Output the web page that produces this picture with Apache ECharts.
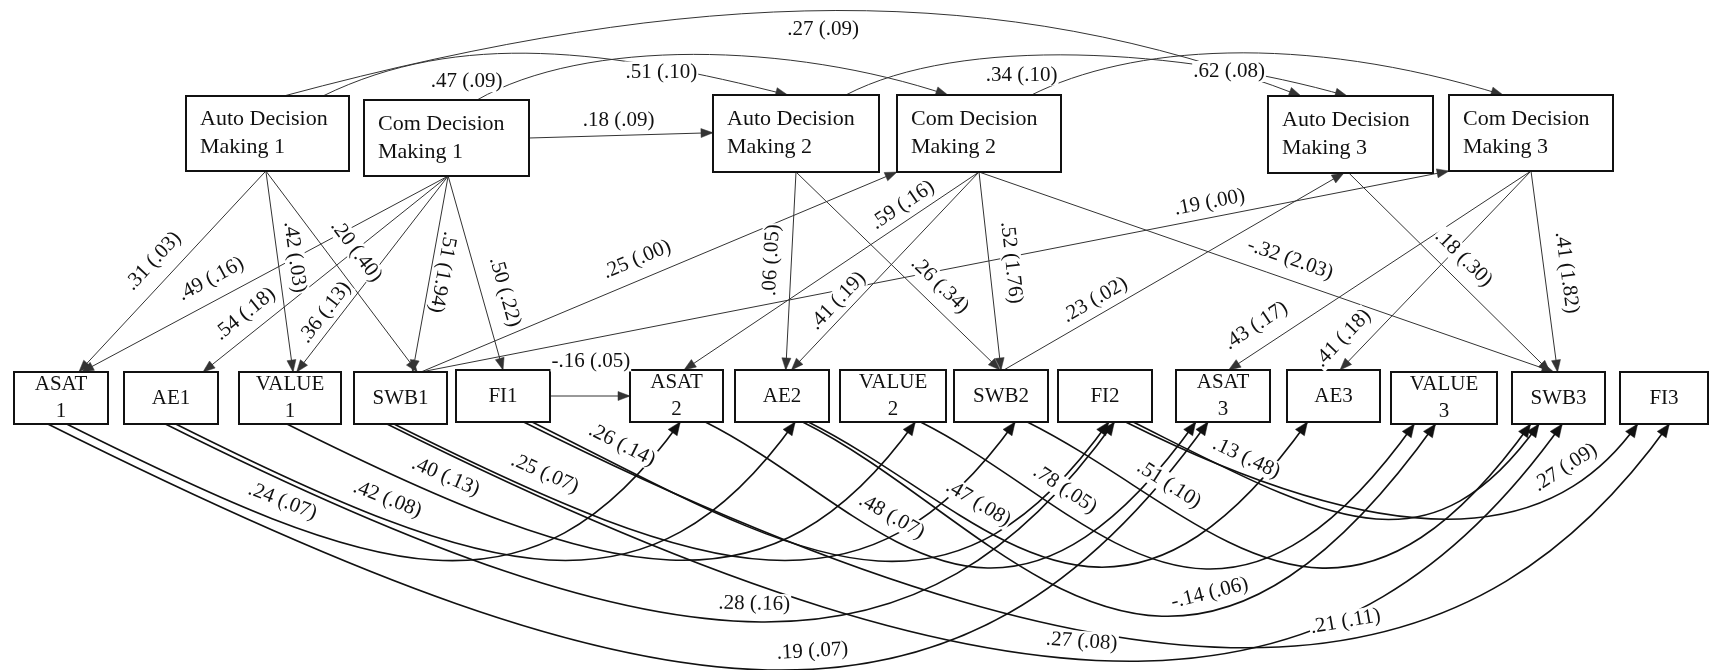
<!DOCTYPE html>
<html>
<head>
<meta charset="utf-8">
<style>
  html, body { margin: 0; padding: 0; background: #fff; }
  #main { width: 1714px; height: 670px; }
</style>
<script src="https://cdn.jsdelivr.net/npm/echarts/dist/echarts.min.js"></script>
</head>
<body>
<div id="main"></div>
<script>
// ---- data ----
const nodeIds = ['ADM1', 'CDM1', 'ADM2', 'CDM2', 'ADM3', 'CDM3',
  'ASAT1', 'AE1', 'VALUE1', 'SWB1', 'FI1',
  'ASAT2', 'AE2', 'VALUE2', 'SWB2', 'FI2',
  'ASAT3', 'AE3', 'VALUE3', 'SWB3', 'FI3'];
const nodeText = ['Auto Decision\nMaking 1', 'Com Decision\nMaking 1',
  'Auto Decision\nMaking 2', 'Com Decision\nMaking 2',
  'Auto Decision\nMaking 3', 'Com Decision\nMaking 3',
  'ASAT\n1', 'AE1', 'VALUE\n1', 'SWB1', 'FI1',
  'ASAT\n2', 'AE2', 'VALUE\n2', 'SWB2', 'FI2',
  'ASAT\n3', 'AE3', 'VALUE\n3', 'SWB3', 'FI3'];

// paths: estimate (se)
const pathFrom = ['ADM1', 'ADM1', 'ADM1', 'CDM1', 'CDM1', 'CDM1', 'CDM1', 'CDM1',
  'CDM1', 'SWB1', 'SWB1', 'FI1', 'ADM2', 'ADM2', 'CDM2', 'CDM2', 'CDM2', 'CDM2',
  'SWB2', 'ADM3', 'CDM3', 'CDM3', 'CDM3',
  'ADM1', 'CDM1', 'ADM1', 'ADM2', 'CDM2',
  'ASAT1', 'ASAT1', 'AE1', 'AE1', 'VALUE1', 'SWB1', 'SWB1', 'FI1', 'FI1',
  'ASAT2', 'AE2', 'AE2', 'VALUE2', 'SWB2', 'FI2', 'FI2'];
const pathTo = ['ASAT1', 'VALUE1', 'SWB1', 'ASAT1', 'AE1', 'VALUE1', 'SWB1', 'FI1',
  'ADM2', 'CDM2', 'CDM3', 'ASAT2', 'AE2', 'SWB2', 'ASAT2', 'AE2', 'SWB2', 'SWB3',
  'ADM3', 'SWB3', 'ASAT3', 'AE3', 'SWB3',
  'ADM2', 'CDM2', 'ADM3', 'ADM3', 'CDM3',
  'ASAT2', 'ASAT3', 'AE2', 'FI2', 'VALUE2', 'SWB2', 'SWB3', 'FI2', 'FI3',
  'ASAT3', 'AE3', 'VALUE3', 'VALUE3', 'SWB3', 'SWB3', 'FI3'];
const pathCoef = ['.31 (.03)', '.42 (.03)', '.20 (.40)', '.49 (.16)', '.54 (.18)', '.36 (.13)', '.51 (1.94)', '.50 (.22)',
  '.18 (.09)', '.25 (.00)', '.19 (.00)', '-.16 (.05)', '.06 (.05)', '.26 (.34)', '.59 (.16)', '.41 (.19)', '.52 (1.76)', '-.32 (2.03)',
  '.23 (.02)', '.18 (.30)', '.43 (.17)', '.41 (.18)', '.41 (1.82)',
  '.51 (.10)', '.47 (.09)', '.27 (.09)', '.62 (.08)', '.34 (.10)',
  '.24 (.07)', '.19 (.07)', '.42 (.08)', '.28 (.16)', '.40 (.13)', '.25 (.07)', '.27 (.08)', '.26 (.14)', '.21 (.11)',
  '.48 (.07)', '.47 (.08)', '-.14 (.06)', '.78 (.05)', '.51 (.10)', '.13 (.48)', '.27 (.09)'];

// ---- layout (boxes in canvas units: x0, y0, x1, y1) ----
const nodeBox = {
  ADM1: [186, 96, 349, 171], CDM1: [364, 100, 529, 176],
  ADM2: [713, 95, 879, 172], CDM2: [897, 95, 1061, 172],
  ADM3: [1268, 96, 1433, 173], CDM3: [1449, 95, 1613, 171],
  ASAT1: [14, 372, 108, 424], AE1: [124, 372, 218, 424], VALUE1: [239, 372, 341, 424],
  SWB1: [354, 372, 447, 424], FI1: [456, 370, 550, 422],
  ASAT2: [630, 370, 723, 422], AE2: [735, 370, 829, 422], VALUE2: [840, 370, 946, 422],
  SWB2: [954, 370, 1048, 422], FI2: [1058, 370, 1152, 422],
  ASAT3: [1176, 370, 1270, 422], AE3: [1287, 370, 1380, 422], VALUE3: [1391, 372, 1497, 424],
  SWB3: [1512, 372, 1605, 424], FI3: [1620, 372, 1708, 424]
};

// kind, anchor on source box, anchor on target box, bend
const pathShape = [
  ['line', [0.49, 1], [0.69, 0]], ['line', [0.49, 1], [0.53, 0]], ['line', [0.49, 1], [0.68, 0]],
  ['line', [0.51, 1], [0.72, 0]], ['line', [0.51, 1], [0.84, 0]], ['line', [0.51, 1], [0.565, 0]],
  ['line', [0.51, 1], [0.63, 0]], ['line', [0.51, 1], [0.5, 0]],
  ['line', [1, 0.5], [0, 0.49]], ['line', [0.72, 0], [0, 1]], ['line', [0.72, 0], [0, 1]],
  ['line', [1, 0.5], [0, 0.5]], ['line', [0.5, 1], [0.54, 0]], ['line', [0.5, 1], [0.49, 0]],
  ['line', [0.5, 1], [0.58, 0]], ['line', [0.5, 1], [0.6, 0]], ['line', [0.5, 1], [0.5, 0]],
  ['line', [0.5, 1], [0.45, 0]], ['line', [0.53, 0], [0.46, 1]], ['line', [0.49, 1], [0.41, 0]],
  ['line', [0.5, 1], [0.56, 0]], ['line', [0.5, 1], [0.57, 0]], ['line', [0.5, 1], [0.49, 0]],
  ['curve', [0.84, 0], [0.45, 0], [137, -67, -177, -45]],
  ['curve', [0.685, 0], [0.31, 0], [108, -62, -158, -53]],
  ['curve', [0.6, 0], [0.2, 0], [417, -112, -301, -116]],
  ['curve', [0.8, 0], [0.48, 0], [115, -60, -167, -48]],
  ['curve', [0.82, 0], [0.33, 0], [98, -49, -203, -63]],
  ['dip', [0.56, 1], [0.54, 1], 137], ['dip', [0.36, 1], [0.34, 1], 247],
  ['dip', [0.55, 1], [0.64, 1], 137], ['dip', [0.44, 1], [0.6, 1], 199],
  ['dip', [0.47, 1], [0.71, 1], 137], ['dip', [0.43, 1], [0.65, 1], 137],
  ['dip', [0.355, 1], [0.54, 1], 237], ['dip', [0.81, 1], [0.54, 1], 137],
  ['dip', [0.72, 1], [0.56, 1], 224], ['dip', [0.81, 1], [0.21, 1], 137],
  ['dip', [0.78, 1], [0.22, 1], 137], ['dip', [0.72, 1], [0.42, 1], 180],
  ['dip', [0.76, 1], [0.22, 1], 137], ['dip', [0.78, 1], [0.2, 1], 137],
  ['dip', [0.8, 1], [0.29, 1], 95], ['dip', [0.72, 1], [0.2, 1], 95]
];

// label place: position along path, offset (px), reading (1 along, -1 reversed, 0 level)
const labelPlace = [
  [0.52, 21, -1], [0.44, 17, 1], [0.47, 24, 1], [0.62, 21, -1], [0.78, 19, -1], [0.74, 14, -1],
  [0.48, 12, 1], [0.63, 23, 1], [0.49, 15, 0], [0.47, 20, 1], [0.77, 15, 1], [0.51, 35, 0],
  [0.45, 20, -1], [0.64, 19, 1], [0.23, 15, -1], [0.70, 14, -1], [0.47, 22, 1], [0.53, 20, 1],
  [0.29, 15, 1], [0.5, 20, 1], [0.87, 22, -1], [0.91, 20, -1], [0.52, 22, 1],
  [0.73, -5, 0], [0, 21, 0], [0.53, -19, 0], [0.765, -2, 0], [0, 22, 0],
  [0.34, 20, 1], [0.66, 18, 1], [0.33, 20, 1], [0.62, 18, 1], [0.24, 20, 1], [0.23, 20, 1],
  [0.59, 18, 1], [0.14, 20, 1], [0.72, 18, 1], [0.36, 20, 1], [0.32, 20, 1], [0.65, 18, 1],
  [0.27, 20, 1], [0.26, 20, 1], [0.26, 18, 1], [0.88, 20, 1]
];

const SERIF = '"Liberation Serif", "Times New Roman", serif';

function anchor(id, a) {
  const b = nodeBox[id];
  return [b[0] + a[0] * (b[2] - b[0]), b[1] + a[1] * (b[3] - b[1])];
}

function controlPoints(i) {
  const s = pathShape[i];
  const p0 = anchor(pathFrom[i], s[1]);
  const p3 = anchor(pathTo[i], s[2]);
  let p1, p2;
  if (s[0] === 'line') {
    p1 = [p0[0] + (p3[0] - p0[0]) / 3, p0[1] + (p3[1] - p0[1]) / 3];
    p2 = [p0[0] + 2 * (p3[0] - p0[0]) / 3, p0[1] + 2 * (p3[1] - p0[1]) / 3];
  } else if (s[0] === 'curve') {
    const c = s[3];
    p1 = [p0[0] + c[0], p0[1] + c[1]];
    p2 = [p3[0] + c[2], p3[1] + c[3]];
  } else {
    // dip below the row: gentle fall, steep rise into the target
    const L = p3[0] - p0[0];
    let a2 = (s[3] / 0.375 - 0.375 * L) / 0.9;
    a2 = Math.max(0.1 * L, Math.min(0.6 * L, a2));
    const a1 = 0.75 * L - a2;
    p1 = [p0[0] + a1, p0[1] + a1 * 0.5];
    p2 = [p3[0] - a2, p3[1] + a2 * 1.4];
  }
  return [p0, p1, p2, p3];
}

function bez(P, t) {
  const u = 1 - t;
  const a = u * u * u, b = 3 * u * u * t, c = 3 * u * t * t, d = t * t * t;
  return [a * P[0][0] + b * P[1][0] + c * P[2][0] + d * P[3][0],
          a * P[0][1] + b * P[1][1] + c * P[2][1] + d * P[3][1]];
}

function bezTan(P, t) {
  const u = 1 - t;
  const x = 3 * u * u * (P[1][0] - P[0][0]) + 6 * u * t * (P[2][0] - P[1][0]) + 3 * t * t * (P[3][0] - P[2][0]);
  const y = 3 * u * u * (P[1][1] - P[0][1]) + 6 * u * t * (P[2][1] - P[1][1]) + 3 * t * t * (P[3][1] - P[2][1]);
  const l = Math.hypot(x, y) || 1;
  return [x / l, y / l];
}

function pixelPoints(i, api) {
  return controlPoints(i).map(function (p) { return api.coord(p); });
}

function renderPath(params, api) {
  const i = params.dataIndex;
  const P = pixelPoints(i, api);
  const dip = pathShape[i][0] === 'dip';
  const color = dip ? '#111' : '#333';
  const d = bezTan(P, 1);
  const len = dip ? 13 : 12, hw = dip ? 5.5 : 4.5;
  const tip = P[3];
  const base = [tip[0] - d[0] * len, tip[1] - d[1] * len];
  const n = [-d[1], d[0]];
  return {
    type: 'group',
    children: [{
      type: 'bezierCurve',
      shape: { x1: P[0][0], y1: P[0][1], cpx1: P[1][0], cpy1: P[1][1],
               cpx2: P[2][0], cpy2: P[2][1], x2: P[3][0], y2: P[3][1] },
      style: { stroke: color, lineWidth: dip ? 1.6 : 1, fill: 'none' }
    }, {
      type: 'polygon',
      shape: { points: [tip, [base[0] + n[0] * hw, base[1] + n[1] * hw], [base[0] - n[0] * hw, base[1] - n[1] * hw]] },
      style: { fill: color, stroke: color, lineWidth: 0.5 }
    }]
  };
}

function renderLabel(params, api) {
  const i = params.dataIndex;
  const P = pixelPoints(i, api);
  const pos = labelPlace[i][0], off = labelPlace[i][1], read = labelPlace[i][2];
  let t = pos;
  if (pathShape[i][0] !== 'line') {
    const xt = P[0][0] + pos * (P[3][0] - P[0][0]);
    let lo = 0, hi = 1;
    for (let k = 0; k < 40; k++) {
      const mid = (lo + hi) / 2;
      if (bez(P, mid)[0] < xt) lo = mid; else hi = mid;
    }
    t = (lo + hi) / 2;
  }
  const pt = bez(P, t);
  let d = bezTan(P, t);
  if (read === -1 || (read === 0 && d[0] < 0)) d = [-d[0], -d[1]];
  const up = [d[1], -d[0]];
  return {
    type: 'text',
    x: pt[0] + up[0] * off,
    y: pt[1] + up[1] * off,
    rotation: read === 0 ? 0 : -Math.atan2(d[1], d[0]),
    style: {
      text: pathCoef[i], fontSize: 21, fontFamily: SERIF, fill: '#111',
      align: 'center', verticalAlign: 'middle',
      backgroundColor: '#fff', padding: [0, 1]
    }
  };
}

function renderNode(params, api) {
  const i = params.dataIndex;
  const b = nodeBox[nodeIds[i]];
  const a = api.coord([b[0], b[1]]), c = api.coord([b[2], b[3]]);
  const top = i < 6;
  return {
    type: 'group',
    children: [{
      type: 'rect',
      shape: { x: a[0], y: a[1], width: c[0] - a[0], height: c[1] - a[1] },
      style: { fill: '#fff', stroke: '#111', lineWidth: 2 }
    }, {
      type: 'text',
      x: top ? a[0] + 14 : (a[0] + c[0]) / 2,
      y: (a[1] + c[1]) / 2,
      style: {
        text: nodeText[i], fontSize: top ? 22 : 21, fontFamily: SERIF, fill: '#111',
        lineHeight: top ? 28 : 27, align: top ? 'left' : 'center', verticalAlign: 'middle'
      }
    }]
  };
}

const pathData = pathFrom.map(function (f, i) {
  const b = nodeBox[f];
  return [(b[0] + b[2]) / 2, (b[1] + b[3]) / 2, i];
});
const nodeData = nodeIds.map(function (id, i) {
  const b = nodeBox[id];
  return [(b[0] + b[2]) / 2, (b[1] + b[3]) / 2, i];
});

const chart = echarts.init(document.getElementById('main'));
chart.setOption({
  backgroundColor: '#fff',
  animation: false,
  grid: { left: 0, right: 0, top: 0, bottom: 0 },
  xAxis: { type: 'value', min: 0, max: 1714, show: false },
  yAxis: { type: 'value', min: 0, max: 670, inverse: true, show: false },
  series: [
    { type: 'custom', silent: true, z: 1, renderItem: renderPath, data: pathData },
    { type: 'custom', silent: true, z: 2, renderItem: renderNode, data: nodeData },
    { type: 'custom', silent: true, z: 3, renderItem: renderLabel, data: pathData }
  ]
});
</script>
</body>
</html>
